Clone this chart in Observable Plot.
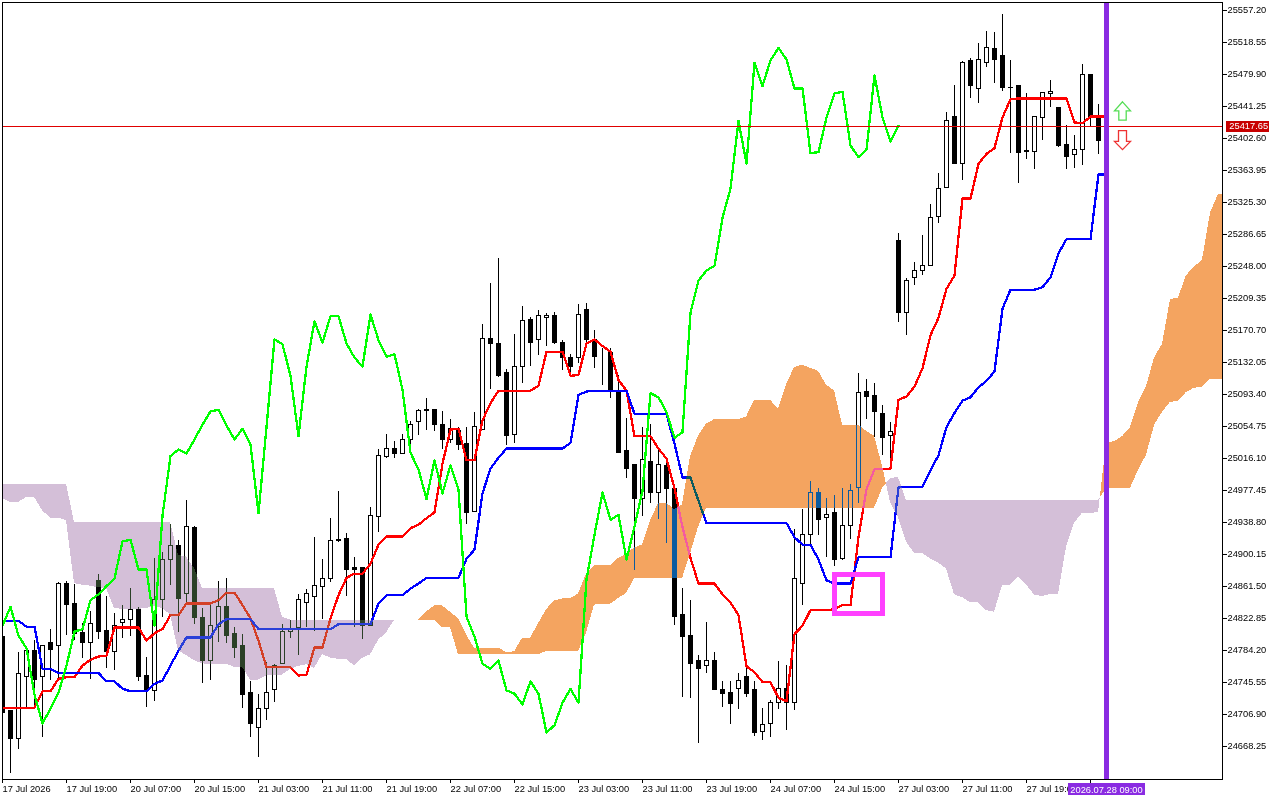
<!DOCTYPE html>
<html>
<head>
<meta charset="utf-8">
<script src="https://cdn.jsdelivr.net/npm/d3@7"></script>
<script src="https://cdn.jsdelivr.net/npm/@observablehq/plot@0.6"></script>
<style>
html,body{margin:0;padding:0;background:#fff;overflow:hidden}
svg{display:block}
</style>
</head>
<body>
<div id="chart"></div>
<script>
const timeLabels = ["17 Jul 2026","17 Jul 19:00","20 Jul 07:00","20 Jul 15:00","21 Jul 03:00","21 Jul 11:00","21 Jul 19:00","22 Jul 07:00","22 Jul 15:00","23 Jul 03:00","23 Jul 11:00","23 Jul 19:00","24 Jul 07:00","24 Jul 15:00","27 Jul 03:00","27 Jul 11:00","27 Jul 19:00",""];
const priceTicks = [25557.20,25518.55,25479.90,25441.25,25402.60,25363.95,25325.30,25286.65,25248.00,25209.35,25170.70,25132.05,25093.40,25054.75,25016.10,24977.45,24938.80,24900.15,24861.50,24822.85,24784.20,24745.55,24706.90,24668.25];
const lastPrice = 25417.65;
const currentBar = 138;
const currentTime = "2026.07.28 09:00";
const lastVisibleBar = 152.5;

const opens = [24801,24711,24677,24752,24784,24752,24793,24790,24864,24840,
24805,24793,24868,24808,24782,24817,24821,24833,24754,24735,
24845,24894,24910,24853,24932,24824,24771,24812,24837,24804,
24790,24733,24691,24714,24736,24768,24807,24811,24842,24849,
24861,24870,24916,24919,24884,24884,24814,24946,25018,25027,
25022,25039,25060,25073,25075,25057,25039,25049,25034,24952,
25051,25160,25154,25119,25044,25127,25183,25159,25186,25188,
25156,25138,25138,25195,25159,25142,25143,25098,25025,25008,
24967,25012,24974,25007,24979,24827,24802,24772,24765,24772,
24737,24733,24738,24752,24736,24686,24695,24721,24738,24721,
24864,24924,24975,24944,24950,24895,24934,24980,25096,25091,
25070,25043,25279,25192,25234,25242,25249,25308,25343,25429,
25372,25496,25462,25494,25511,25502,25464,25466,25387,25386,
25427,25456,25440,25395,25383,25389,25479,25428,25399];
const highs = [24801,24711,24782,24784,24796,24790,24810,24866,24868,24864,
24817,24831,24876,24849,24829,24839,24859,24836,24776,24895,
24903,24936,24917,24965,24934,24835,24840,24868,24871,24812,
24804,24747,24731,24770,24767,24816,24820,24852,24858,24921,
24894,24944,24976,24925,24896,24884,24957,25027,25045,25037,
25045,25061,25075,25088,25075,25073,25063,25054,25054,25072,
25178,25227,25258,25124,25166,25200,25186,25195,25191,25192,
25159,25142,25202,25203,25171,25149,25149,25116,25064,25008,
25054,25057,25029,25011,24979,24859,24845,24778,24818,24782,
24747,24747,24756,24764,24747,24714,24724,24771,24766,24930,
24954,24988,24980,24968,24972,24980,24985,25119,25112,25107,
25080,25060,25288,25234,25253,25285,25323,25360,25434,25467,
25496,25499,25517,25532,25531,25552,25497,25466,25457,25428,
25457,25473,25440,25418,25406,25492,25479,25444,25425];
const lows = [24707,24636,24665,24715,24715,24679,24748,24748,24802,24796,
24775,24749,24797,24762,24760,24799,24801,24747,24715,24723,
24824,24863,24806,24841,24816,24744,24748,24794,24793,24775,
24714,24679,24655,24700,24721,24768,24799,24778,24812,24807,
24822,24866,24915,24849,24812,24797,24814,24927,25016,25016,
25021,25033,25044,25050,25049,25027,25034,25026,24936,24952,
25050,25100,25114,25032,25034,25107,25127,25141,25151,25154,
25122,25116,25131,25155,25125,25104,25088,25022,24992,24881,
24946,24962,24942,24913,24814,24727,24726,24672,24756,24736,
24715,24695,24713,24727,24680,24676,24679,24713,24688,24712,
24839,24912,24923,24896,24886,24893,24918,24962,25063,25041,
25020,25013,25180,25165,25225,25237,25248,25300,25342,25371,
25352,25451,25445,25488,25469,25459,25385,25348,25377,25365,
25400,25440,25392,25365,25366,25370,25416,25383,25395];
const closes = [24709,24677,24756,24784,24749,24790,24785,24864,24839,24804,
24793,24816,24807,24782,24814,24821,24833,24752,24735,24845,
24893,24910,24846,24933,24824,24772,24814,24837,24802,24787,
24731,24696,24714,24733,24766,24807,24810,24845,24852,24862,
24871,24916,24918,24882,24882,24814,24947,25019,25027,25022,
25039,25057,25073,25075,25056,25039,25052,25033,24950,25054,
25160,25154,25116,25043,25127,25182,25156,25188,25188,25155,
25138,25127,25190,25159,25139,25142,25099,25023,25003,24967,
25014,24974,25008,24979,24825,24801,24768,24762,24772,24736,
24732,24719,24747,24732,24685,24694,24721,24738,24721,24870,
24924,24975,24942,24948,24894,24934,24977,25095,25090,25072,
25041,25048,25192,25231,25243,25249,25307,25342,25424,25372,
25494,25466,25497,25512,25498,25463,25463,25385,25386,25428,
25457,25459,25394,25380,25389,25479,25428,25399,25417.65];

const tenkan = [24715,24715,24715,24715,24715,24735,24735,24750,24752,24752,
24766,24773,24777,24778,24812,24812,24812,24812,24796,24805,
24810,24827,24827,24841,24841,24841,24841,24845,24854,24854,
24839,24823,24796,24764,24764,24764,24764,24754,24755,24788,
24788,24823,24851,24872,24877,24877,24889,24912,24922,24922,
24922,24932,24936,24944,24951,25010,25051,25052,25014,25014,
25062,25083,25098,25098,25098,25098,25098,25104,25145,25145,
25145,25116,25117,25155,25160,25152,25145,25111,25098,25043,
25043,25043,25028,25016,24980,24933,24896,24865,24865,24865,
24852,24842,24827,24765,24758,24746,24746,24727,24723,24804,
24814,24833,24833,24833,24834,24839,24839,24921,24979,25003,
25003,25004,25087,25091,25103,25125,25165,25186,25221,25237,
25330,25330,25372,25384,25391,25428,25450,25451,25451,25451,
25451,25451,25451,25451,25422,25421,25429,25429,25429];
const kijun = [24820,24820,24820,24813,24813,24762,24762,24757,24757,24757,
24757,24757,24757,24747,24747,24738,24735,24735,24735,24744,
24748,24766,24784,24800,24800,24800,24800,24816,24822,24822,
24822,24822,24810,24810,24810,24810,24810,24810,24810,24810,
24810,24810,24816,24816,24816,24816,24816,24841,24851,24851,
24851,24859,24865,24872,24872,24872,24872,24872,24895,24906,
24974,25004,25017,25028,25028,25028,25028,25028,25028,25028,
25028,25035,25093,25097,25098,25098,25098,25098,25098,25070,
25070,25070,25070,25070,25034,24993,24993,24965,24938,24938,
24938,24938,24938,24938,24938,24938,24938,24938,24938,24921,
24912,24912,24894,24869,24865,24865,24865,24897,24897,24897,
24897,24897,24981,24982,24982,24982,25002,25020,25054,25071,
25086,25090,25102,25110,25121,25197,25220,25220,25220,25220,
25223,25235,25264,25281,25281,25281,25281,25359,25359];
const chikou = [24814,24837,24802,24787,24731,24696,24714,24733,24766,24807,
24810,24845,24852,24862,24871,24916,24918,24882,24882,24814,
24947,25019,25027,25022,25039,25057,25073,25075,25056,25039,
25052,25033,24950,25054,25160,25154,25116,25043,25127,25182,
25156,25188,25188,25155,25138,25127,25190,25159,25139,25142,
25099,25023,25003,24967,25014,24974,25008,24979,24825,24801,
24768,24762,24772,24736,24732,24719,24747,24732,24685,24694,
24721,24738,24721,24870,24924,24975,24942,24948,24894,24934,
24977,25095,25090,25072,25041,25048,25192,25231,25243,25249,
25307,25342,25424,25372,25494,25466,25497,25512,25498,25463,
25463,25385,25386,25428,25457,25459,25394,25380,25389,25479,
25428,25399,25417.65];
const spanA = [24968,24963,24963,24969,24969,24953,24944,24944,24941,24865,
24863,24862,24860,24859,24835,24834,24834,24834,24835,24837,
24835,24827,24784,24778,24772,24768,24767.5,24767.5,24767.5,24764,
24764,24748.5,24748.5,24753.5,24754.5,24754.5,24761.5,24765,24767,24762.5,
24779.5,24775,24773.5,24773.5,24765.5,24774.5,24779,24796.5,24805.5,24820.5,
24820.5,24820.5,24820.5,24830.5,24838,24838,24830.5,24822.5,24803,24787,
24787,24787,24787,24782,24782.5,24799,24799,24816.5,24833.5,24844,
24846.5,24846.5,24852.5,24876.5,24886.5,24886.5,24886.5,24895.5,24900.5,24908,
24911.5,24941,24961.5,24962,24954.5,24960,25018,25043.5,25057.5,25063,
25063,25063,25063,25066,25086.5,25086.5,25086.5,25075.5,25105,25126,
25129,25125,25121.5,25104.5,25098,25056.5,25056.5,25056.5,25049,25043,
25007,24963,24944.5,24915,24901.5,24901.5,24895,24890,24882.5,24851.5,
24848,24842,24842,24832.5,24830.5,24862.5,24863,24872.5,24863.5,24851,
24849.5,24852,24852,24909,24938,24950,24950,24950.5,25034,25036.5,
25042.5,25053.5,25083.5,25103,25137.5,25154,25208,25210,25237,25247,
25256,25312.5,25335,25335.5];
const spanB = [24985,24985,24985,24985,24985,24985,24985,24985,24985,24939,
24939,24939,24939,24939,24939,24939,24939,24939,24939,24939,
24939,24939,24899,24897,24883,24859,24859,24859,24859,24859,
24859,24859,24859,24859,24859,24824,24821,24821,24821,24821,
24821,24821,24821,24821,24821,24821,24821,24821,24821,24821,
24821,24821,24821,24821,24821,24812,24812,24779,24779,24779,
24779,24779,24779,24779,24779,24779,24779,24779,24783,24783,
24783,24783,24783,24805,24839,24840,24840,24847,24853,24871,
24871,24871,24871,24871,24871,24871,24901,24933,24956,24956,
24956,24956,24956,24956,24956,24956,24956,24956,24956,24956,
24956,24956,24956,24956,24956,24956,24956,24956,24956,24956,
24980,24992,24993,24965,24965,24965,24965,24965,24965,24965,
24965,24965,24965,24965,24965,24965,24965,24965,24965,24965,
24965,24965,24965,24965,24965,24965,24965,24965,24980,24980,
24980,24980,25002,25020,25056,25072,25084,25085,25096,25101,
25102,25112,25112,25112];

const candles = opens.map((o,i)=>({i,o,h:highs[i],l:lows[i],c:closes[i]}));
const lineRows = s => s.map((v,i)=>({i,v}));

// cloud: one group per run of equal sign, closed at the crossing of the two spans
const cloud = [];
let seg = 0;
spanA.forEach((a,i)=>{
  const b = spanB[i], kind = a>=b ? "up" : "down";
  cloud.push({i:Math.min(i,lastVisibleBar),a,b,kind,seg});
  if (i+1<spanA.length){
    const d0=a-b, d1=spanA[i+1]-spanB[i+1];
    if ((d0>=0)!==(d1>=0)){
      const t=d0/(d0-d1), m=a+(spanA[i+1]-a)*t;
      cloud.push({i:i+t,a:m,b:m,kind,seg});
      seg++;
      cloud.push({i:i+t,a:m,b:m,kind:d1>=0?"up":"down",seg});
    }
  }
});

const font = "Liberation Sans, Arial, sans-serif";
const arrow = pts => ({draw(ctx){pts.forEach(([x,y],k)=>k?ctx.lineTo(x,y):ctx.moveTo(x,y));ctx.closePath();}});
const upShape = arrow([[0,-9],[8,0],[3.7,0],[3.7,9.3],[-3.7,9.3],[-3.7,0],[-8,0]]);
const downShape = arrow([[0,9],[8,0.7],[4,0.7],[4,-10],[-4,-10],[-4,0.7],[-8,0.7]]);

const chart = Plot.plot({
  width:1280, height:800,
  marginLeft:2, marginRight:58, marginTop:2, marginBottom:21,
  style:{fontFamily:font, background:"#fff"},
  x:{type:"linear", domain:[0,lastVisibleBar], axis:null},
  y:{type:"linear", domain:[24628.39,25566.86], axis:null},
  marks:[
    Plot.frame({fill:"#fff", stroke:null}),
    Plot.ruleX(candles,{x:"i", y1:"l", y2:"h", stroke:"#000", strokeWidth:1, shapeRendering:"crispEdges", clip:"frame"}),
    Plot.rect(candles,{x1:d=>d.i-0.25, x2:d=>d.i+0.25, y1:"o", y2:"c", fill:d=>d.c>=d.o?"#fff":"#000", stroke:"#000", strokeWidth:1, shapeRendering:"crispEdges", clip:"frame"}),
    Plot.line(lineRows(tenkan),{x:"i", y:"v", stroke:"#ff0000", strokeWidth:2.3, curve:"linear", shapeRendering:"crispEdges", clip:"frame"}),
    Plot.line(lineRows(kijun),{x:"i", y:"v", stroke:"#0000ff", strokeWidth:2.3, curve:"linear", shapeRendering:"crispEdges", clip:"frame"}),
    Plot.areaY(cloud.filter(d=>d.kind==="down"),{x:"i", y1:"a", y2:"b", z:"seg", fill:"#2b4027", mixBlendMode:"difference", shapeRendering:"crispEdges"}),
    Plot.areaY(cloud.filter(d=>d.kind==="up"),{x:"i", y1:"a", y2:"b", z:"seg", fill:"#0b5b9f", mixBlendMode:"difference", shapeRendering:"crispEdges"}),
    Plot.line(lineRows(chikou),{x:"i", y:"v", stroke:"#00ff00", strokeWidth:2.3, curve:"linear", shapeRendering:"crispEdges", clip:"frame"}),
    Plot.rect([{x1:104,x2:110,y1:24828,y2:24875}],{x1:"x1",x2:"x2",y1:"y1",y2:"y2", fill:"none", stroke:"#ff40ff", strokeWidth:5, shapeRendering:"crispEdges"}),
    Plot.ruleY([lastPrice],{stroke:"#e00000", strokeWidth:1, shapeRendering:"crispEdges"}),
    Plot.ruleX([currentBar],{stroke:"#8a2be2", strokeWidth:5, shapeRendering:"crispEdges"}),
    Plot.dot([{x:140,y:25436}],{x:"x",y:"y",symbol:upShape,r:5,fill:"#fff",stroke:"#55dd55",strokeWidth:1.3}),
    Plot.dot([{x:140,y:25400}],{x:"x",y:"y",symbol:downShape,r:5,fill:"#fff",stroke:"#ee3333",strokeWidth:1.3}),
    Plot.frame({stroke:"#000", strokeWidth:1, shapeRendering:"crispEdges"}),
    Plot.axisY(priceTicks,{anchor:"right", label:null, tickSize:4, tickPadding:1, tickFormat:d=>d.toFixed(2), fontSize:9.3, fill:"#000", stroke:"#000", strokeWidth:1}),
    Plot.axisX(timeLabels.map((_,k)=>k*8),{anchor:"bottom", label:null, tickSize:4, tickPadding:2, tickFormat:v=>timeLabels[v/8], textAnchor:"start", fontSize:9.3, fill:"#000", stroke:"#000"}),
    Plot.rect([{x1:152.94,x2:158.4,y1:25410,y2:25423}],{x1:"x1",x2:"x2",y1:"y1",y2:"y2",fill:"#c80000",shapeRendering:"crispEdges"}),
    Plot.text([lastPrice],{x:153.35,y:d=>d,text:d=>d.toFixed(2),fill:"#fff",fontSize:9.3,textAnchor:"start",fontFamily:font}),
    Plot.rect([{x1:133.2,x2:142.9,y1:24609,y2:24623}],{x1:"x1",x2:"x2",y1:"y1",y2:"y2",fill:"#8a2be2",shapeRendering:"crispEdges"}),
    Plot.text([currentTime],{x:138,y:24616,text:d=>d,fill:"#fff",fontSize:9.3,fontFamily:font})
  ]
});
document.getElementById("chart").appendChild(chart);
</script>
</body>
</html>
